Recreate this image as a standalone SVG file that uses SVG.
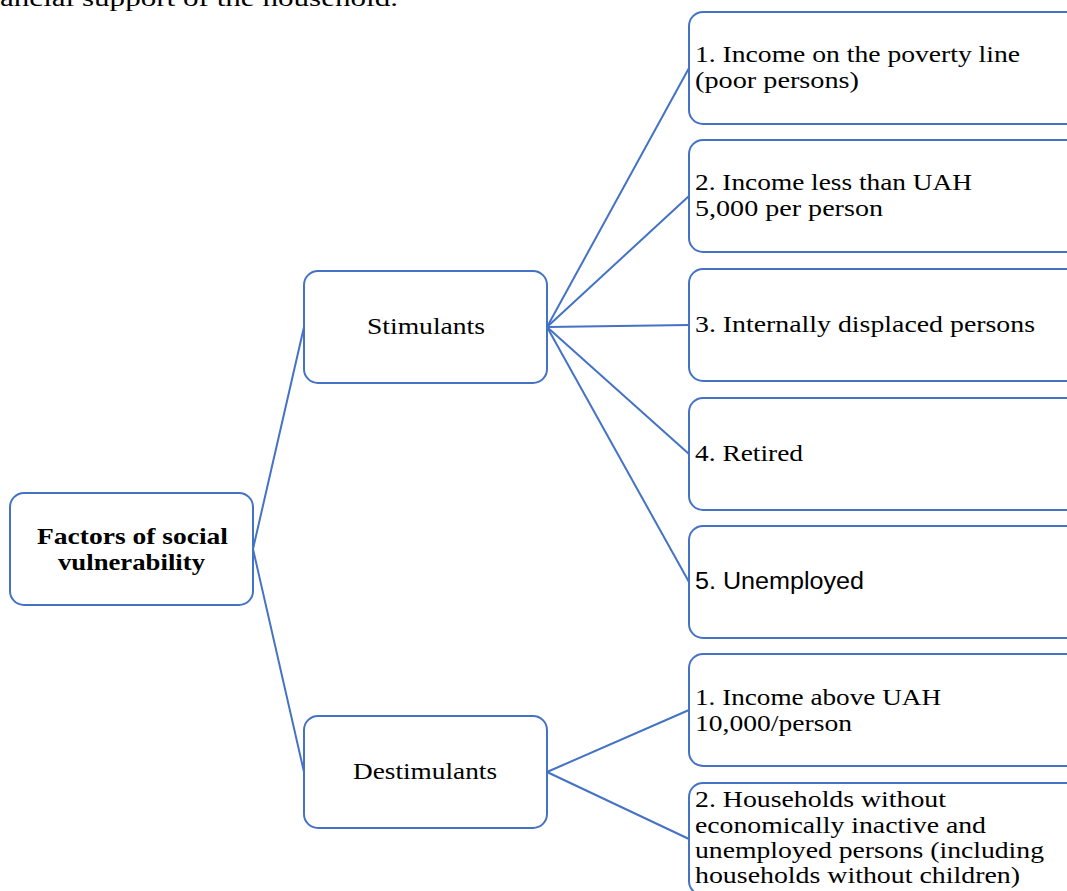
<svg xmlns="http://www.w3.org/2000/svg" width="1067" height="891" viewBox="0 0 1067 891">
<style>
.box{fill:#fff;stroke:#4472C4;stroke-width:2}
.t{font-family:"Liberation Serif","Times New Roman",serif;font-size:24px;fill:#000}
.s{font-family:"Liberation Sans",Arial,sans-serif;font-size:23px;fill:#000}
.c{stroke:#4472C4;stroke-width:2;fill:none}
</style>
<rect width="1067" height="891" fill="#fff"/>
<text x="0" y="6" class="t" textLength="398" lengthAdjust="spacingAndGlyphs">ancial support of the household.</text>
<g id="connectors">
<line class="c" x1="253" y1="549" x2="304" y2="327"/>
<line class="c" x1="253" y1="549" x2="304" y2="772"/>
<line class="c" x1="547" y1="327" x2="689" y2="68"/>
<line class="c" x1="547" y1="327" x2="689" y2="196"/>
<line class="c" x1="547" y1="327" x2="689" y2="325"/>
<line class="c" x1="547" y1="327" x2="689" y2="454"/>
<line class="c" x1="547" y1="327" x2="689" y2="582"/>
<line class="c" x1="547" y1="772" x2="689" y2="710"/>
<line class="c" x1="547" y1="772" x2="689" y2="839"/>
</g>
<g id="root">
<rect class="box" x="10" y="493" width="243" height="112" rx="14"/>
<text class="t" x="37" y="544" font-weight="bold" textLength="191" lengthAdjust="spacingAndGlyphs">Factors of social</text>
<text class="t" x="58" y="570" font-weight="bold" textLength="147" lengthAdjust="spacingAndGlyphs">vulnerability</text>
</g>
<g id="stimulants">
<rect class="box" x="304" y="271" width="243" height="112" rx="14"/>
<text class="t" x="367" y="334" textLength="118" lengthAdjust="spacingAndGlyphs">Stimulants</text>
</g>
<g id="destimulants">
<rect class="box" x="304" y="716" width="243" height="112" rx="14"/>
<text class="t" x="353" y="779" textLength="144" lengthAdjust="spacingAndGlyphs">Destimulants</text>
</g>
<g id="s1">
<rect class="box" x="689" y="12" width="400" height="112" rx="14"/>
<text class="t" x="695" y="62" textLength="325" lengthAdjust="spacingAndGlyphs">1. Income on the poverty line</text>
<text class="t" x="695" y="88" textLength="164" lengthAdjust="spacingAndGlyphs">(poor persons)</text>
</g>
<g id="s2">
<rect class="box" x="689" y="140" width="400" height="112" rx="14"/>
<text class="t" x="695" y="190" textLength="277" lengthAdjust="spacingAndGlyphs">2. Income less than UAH</text>
<text class="t" x="695" y="216" textLength="188" lengthAdjust="spacingAndGlyphs">5,000 per person</text>
</g>
<g id="s3">
<rect class="box" x="689" y="269" width="400" height="112" rx="14"/>
<text class="t" x="695" y="332" textLength="340" lengthAdjust="spacingAndGlyphs">3. Internally displaced persons</text>
</g>
<g id="s4">
<rect class="box" x="689" y="398" width="400" height="112" rx="14"/>
<text class="t" x="695" y="461" textLength="108" lengthAdjust="spacingAndGlyphs">4. Retired</text>
</g>
<g id="s5">
<rect class="box" x="689" y="526" width="400" height="112" rx="14"/>
<text class="s" x="695" y="589" textLength="169" lengthAdjust="spacingAndGlyphs">5. Unemployed</text>
</g>
<g id="d1">
<rect class="box" x="689" y="654" width="400" height="112" rx="14"/>
<text class="t" x="695" y="705" textLength="246" lengthAdjust="spacingAndGlyphs">1. Income above UAH</text>
<text class="t" x="695" y="731" textLength="157" lengthAdjust="spacingAndGlyphs">10,000/person</text>
</g>
<g id="d2">
<rect class="box" x="689" y="783" width="400" height="112" rx="14"/>
<text class="t" x="695" y="807" textLength="251" lengthAdjust="spacingAndGlyphs">2. Households without</text>
<text class="t" x="695" y="833" textLength="291" lengthAdjust="spacingAndGlyphs">economically inactive and</text>
<text class="t" x="695" y="858" textLength="349" lengthAdjust="spacingAndGlyphs">unemployed persons (including</text>
<text class="t" x="695" y="883" textLength="325" lengthAdjust="spacingAndGlyphs">households without children)</text>
</g>
</svg>
